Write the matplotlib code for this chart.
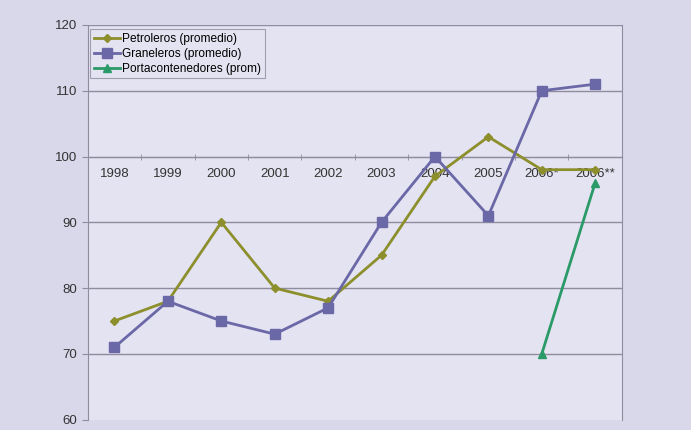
import matplotlib.pyplot as plt
import numpy as np

# categories and series
years = ['1998', '1999', '2000', '2001', '2002', '2003', '2004', '2005', '2006*', '2006**']
petroleros = [75, 78, 90, 80, 78, 85, 97, 103, 98, 98]
graneleros = [71, 78, 75, 73, 77, 90, 100, 91, 110, 111]
portacont = [np.nan] * 8 + [70, 96]

plt.rcParams['font.family'] = ['Liberation Sans', 'DejaVu Sans']

fig = plt.figure(figsize=(6.91, 4.30), dpi=100)
fig.patch.set_facecolor('#d9d7ea')

ax = fig.add_axes([0.127, 0.024, 0.773, 0.918])
ax.set_facecolor('#e4e3f1')

x = np.arange(len(years))

# gridlines
for v in range(70, 121, 10):
    ax.axhline(v, color='#8e8c9e', lw=1.0, zorder=1)

ax.plot(x, petroleros, color='#8c8f2c', lw=2, marker='D', ms=4.5, label='Petroleros (promedio)', zorder=3)
ax.plot(x, graneleros, color='#6a68a6', lw=2, marker='s', ms=7, label='Graneleros (promedio)', zorder=3)
ax.plot(x, portacont, color='#2a9b68', lw=2, marker='^', ms=6, label='Portacontenedores (prom)', zorder=3)

ax.set_xlim(-0.5, len(years) - 0.5)
ax.set_ylim(60, 120)
ax.set_yticks(range(60, 121, 10))

# x axis crosses at 100
ax.spines['bottom'].set_position(('data', 100))
ax.spines['top'].set_visible(False)
for s in ['bottom', 'left', 'right']:
    ax.spines[s].set_color('#8e8c9e')
ax.set_xticks(x)
ax.set_xticklabels(years)
ax.set_xticks(np.arange(-0.5, len(years)), minor=True)
ax.tick_params(axis='x', which='major', length=0, pad=8, labelsize=9.5, labelcolor='#333333')
ax.tick_params(axis='x', which='minor', length=4, color='#8e8c9e', direction='inout')
ax.tick_params(axis='y', length=4, color='#8e8c9e', labelsize=9.5, labelcolor='#333333')

leg = ax.legend(loc='upper left', bbox_to_anchor=(0.0, 0.995), fontsize=8.6, frameon=True,
                fancybox=False, borderpad=0.3, handlelength=2.2, handletextpad=0.2,
                labelspacing=0.25, borderaxespad=0.2)
leg.get_frame().set_edgecolor('#8e8c9e')
leg.get_frame().set_facecolor('#e4e3f1')
leg.get_frame().set_linewidth(0.8)

fig.savefig('out.png', dpi=100, facecolor=fig.get_facecolor())
